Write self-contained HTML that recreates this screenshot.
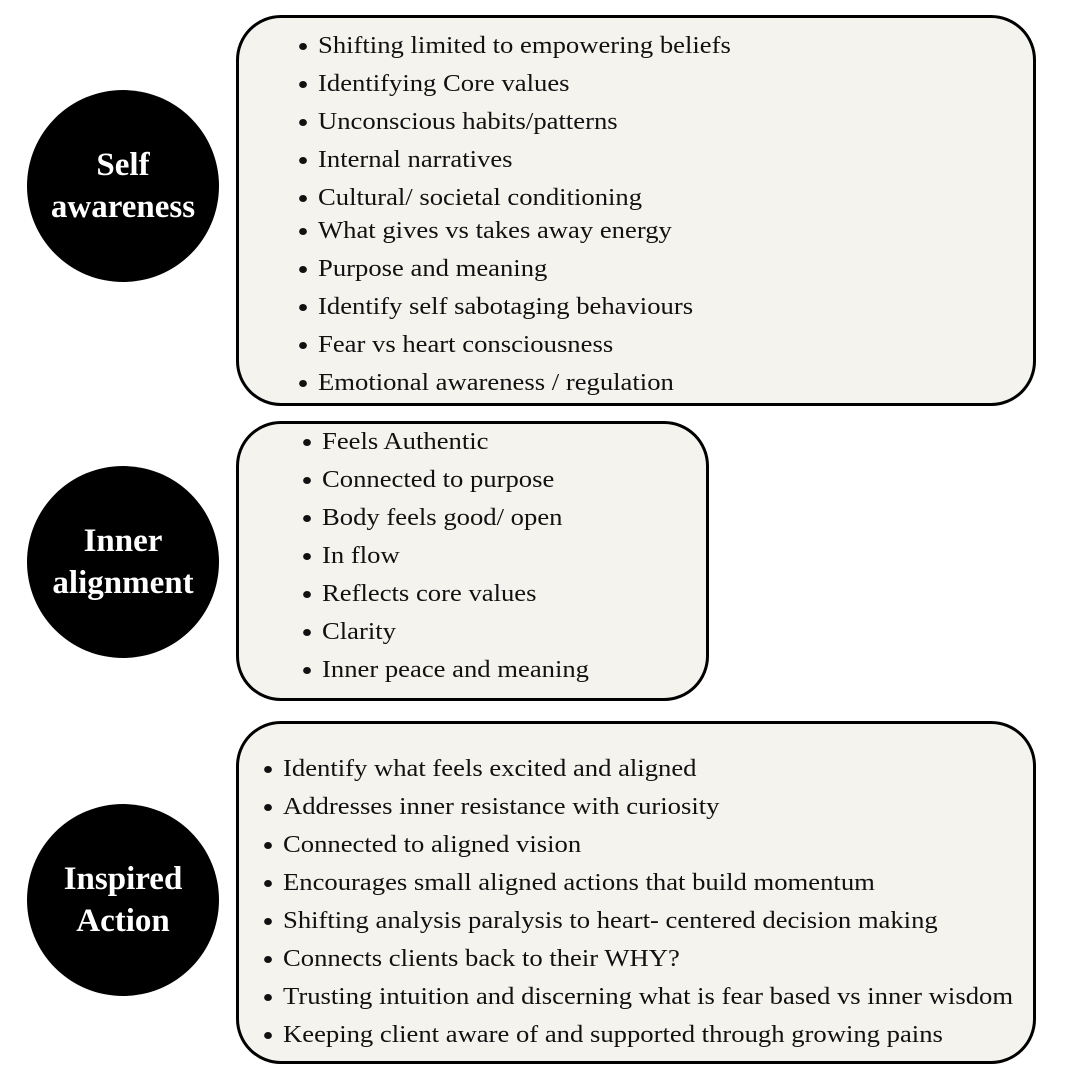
<!DOCTYPE html>
<html><head><meta charset="utf-8"><style>
body{margin:0;width:1080px;height:1080px;background:#fff;position:relative;overflow:hidden;font-family:"Liberation Serif",serif;}
.c{position:absolute;width:192px;height:192px;border-radius:50%;background:#000;color:#fff;font-weight:bold;font-size:33px;line-height:42px;display:flex;align-items:center;justify-content:center;text-align:center;left:27px;}
.b{position:absolute;background:#f4f3ee;border:3px solid #000;border-radius:45px;box-sizing:border-box;}
.t{position:absolute;font-size:24px;color:#111;white-space:nowrap;line-height:1;transform:scaleX(1.11);transform-origin:0 0;}
.t::before{content:"";position:absolute;width:7px;height:7px;border-radius:50%;background:#111;left:-17px;top:9px;}
</style></head><body>
<div class="c" style="top:90px">Self<br>awareness</div>
<div class="c" style="top:466px">Inner<br>alignment</div>
<div class="c" style="top:804px">Inspired<br>Action</div>
<div class="b" style="left:236px;top:15px;width:800px;height:391px"></div>
<div class="b" style="left:236px;top:421px;width:473px;height:280px"></div>
<div class="b" style="left:236px;top:721px;width:800px;height:343px"></div>

<div class="t" style="left:318px;top:34px">Shifting limited to empowering beliefs</div>
<div class="t" style="left:318px;top:72px">Identifying Core values</div>
<div class="t" style="left:318px;top:110px">Unconscious habits/patterns</div>
<div class="t" style="left:318px;top:148px">Internal narratives</div>
<div class="t" style="left:318px;top:186px">Cultural/ societal conditioning</div>
<div class="t" style="left:318px;top:219px">What gives vs takes away energy</div>
<div class="t" style="left:318px;top:257px">Purpose and meaning</div>
<div class="t" style="left:318px;top:295px">Identify self sabotaging behaviours</div>
<div class="t" style="left:318px;top:333px">Fear vs heart consciousness</div>
<div class="t" style="left:318px;top:371px">Emotional awareness / regulation</div>

<div class="t" style="left:322px;top:430px">Feels Authentic</div>
<div class="t" style="left:322px;top:468px">Connected to purpose</div>
<div class="t" style="left:322px;top:506px">Body feels good/ open</div>
<div class="t" style="left:322px;top:544px">In flow</div>
<div class="t" style="left:322px;top:582px">Reflects core values</div>
<div class="t" style="left:322px;top:620px">Clarity</div>
<div class="t" style="left:322px;top:658px">Inner peace and meaning</div>

<div class="t" style="left:283px;top:757px">Identify what feels excited and aligned</div>
<div class="t" style="left:283px;top:795px">Addresses inner resistance with curiosity</div>
<div class="t" style="left:283px;top:833px">Connected to aligned vision</div>
<div class="t" style="left:283px;top:871px">Encourages small aligned actions that build momentum</div>
<div class="t" style="left:283px;top:909px">Shifting analysis paralysis to heart- centered decision making</div>
<div class="t" style="left:283px;top:947px">Connects clients back to their WHY?</div>
<div class="t" style="left:283px;top:985px">Trusting intuition and discerning what is fear based vs inner wisdom</div>
<div class="t" style="left:283px;top:1023px">Keeping client aware of and supported through growing pains</div>
</body></html>
